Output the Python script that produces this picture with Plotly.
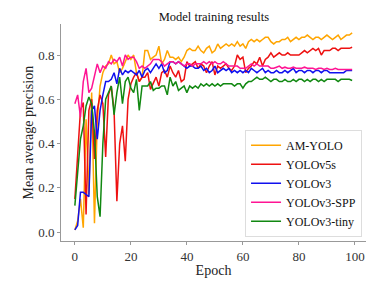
import plotly.graph_objects as go

epochs = list(range(100))

am_yolo = [0.01, 0.05, 0.15, 0.02, 0.51, 0.17, 0.63, 0.04, 0.50, 0.66,
           0.72, 0.75, 0.76, 0.80, 0.76, 0.77, 0.72, 0.74, 0.77, 0.80,
           0.78, 0.80, 0.72, 0.68, 0.70, 0.82, 0.82, 0.78, 0.79, 0.80,
           0.84, 0.76, 0.78, 0.82, 0.79, 0.79, 0.78, 0.79, 0.77, 0.79,
           0.82, 0.83, 0.82, 0.82, 0.84, 0.82, 0.81, 0.83, 0.84, 0.81,
           0.82, 0.85, 0.83, 0.84, 0.85, 0.84, 0.85, 0.84, 0.86, 0.84,
           0.85, 0.83, 0.86, 0.87, 0.86, 0.87, 0.86, 0.87, 0.88, 0.88,
           0.86, 0.85, 0.86, 0.86, 0.87, 0.87, 0.88, 0.86, 0.87, 0.88,
           0.87, 0.88, 0.88, 0.89, 0.88, 0.87, 0.88, 0.88, 0.87, 0.88,
           0.89, 0.88, 0.87, 0.88, 0.89, 0.87, 0.88, 0.89, 0.89, 0.90]

yolov5s = [0.15, 0.35, 0.55, 0.585, 0.08, 0.55, 0.60, 0.33, 0.55, 0.62,
           0.58, 0.34, 0.62, 0.66, 0.55, 0.14, 0.40, 0.48, 0.32, 0.60,
           0.67, 0.70, 0.72, 0.68, 0.70, 0.70, 0.72, 0.645, 0.67, 0.70,
           0.66, 0.72, 0.73, 0.70, 0.75, 0.72, 0.70, 0.73, 0.68, 0.69,
           0.77, 0.75, 0.76, 0.77, 0.74, 0.76, 0.75, 0.72, 0.75, 0.77,
           0.71, 0.75, 0.74, 0.75, 0.76, 0.74, 0.73, 0.75, 0.80, 0.78,
           0.79, 0.72, 0.74, 0.75, 0.77, 0.76, 0.79, 0.75, 0.78, 0.79,
           0.81, 0.79, 0.80, 0.81, 0.80, 0.80, 0.81, 0.80, 0.80, 0.80,
           0.80, 0.81, 0.82, 0.81, 0.82, 0.83, 0.82, 0.83, 0.80, 0.82,
           0.82, 0.82, 0.83, 0.83, 0.82, 0.83, 0.83, 0.83, 0.83, 0.835]

yolov3 = [0.01, 0.03, 0.18, 0.18, 0.17, 0.16, 0.55, 0.57, 0.42, 0.55,
          0.62, 0.68, 0.68, 0.69, 0.72, 0.67, 0.74, 0.71, 0.73, 0.72,
          0.73, 0.72, 0.71, 0.73, 0.70, 0.73, 0.74, 0.72, 0.74, 0.76,
          0.74, 0.76, 0.72, 0.73, 0.77, 0.77, 0.76, 0.77, 0.76, 0.75,
          0.74, 0.75, 0.75, 0.74, 0.74, 0.75, 0.73, 0.74, 0.72, 0.73,
          0.75, 0.72, 0.73, 0.74, 0.73, 0.74, 0.72, 0.73, 0.72, 0.73,
          0.72, 0.73, 0.72, 0.74, 0.73, 0.72, 0.73, 0.74, 0.72, 0.73,
          0.72, 0.72, 0.73, 0.72, 0.72, 0.73, 0.72, 0.73, 0.74, 0.72,
          0.73, 0.73, 0.72, 0.73, 0.73, 0.72, 0.73, 0.73, 0.72, 0.73,
          0.73, 0.72, 0.72, 0.72, 0.72, 0.72, 0.72, 0.73, 0.73, 0.73]

yolov3_spp = [0.58, 0.62, 0.52, 0.68, 0.74, 0.63, 0.65, 0.70, 0.76, 0.72,
              0.75, 0.74, 0.77, 0.76, 0.78, 0.77, 0.79, 0.75, 0.80, 0.78,
              0.79, 0.79, 0.77, 0.74, 0.75, 0.74, 0.75, 0.76, 0.78, 0.78,
              0.78, 0.77, 0.75, 0.76, 0.77, 0.77, 0.76, 0.77, 0.76, 0.75,
              0.76, 0.76, 0.75, 0.76, 0.76, 0.76, 0.77, 0.76, 0.77, 0.76,
              0.77, 0.76, 0.76, 0.77, 0.76, 0.75, 0.75, 0.75, 0.75, 0.74,
              0.74, 0.74, 0.75, 0.76, 0.75, 0.76, 0.75, 0.75, 0.75, 0.75,
              0.74, 0.74, 0.745, 0.75, 0.74, 0.745, 0.74, 0.74, 0.745, 0.74,
              0.74, 0.74, 0.745, 0.74, 0.74, 0.74, 0.735, 0.74, 0.74, 0.735,
              0.74, 0.735, 0.735, 0.74, 0.735, 0.735, 0.735, 0.735, 0.735, 0.735]

yolov3_tiny = [0.12, 0.28, 0.42, 0.48, 0.57, 0.61, 0.58, 0.45, 0.16, 0.07,
               0.40, 0.60, 0.63, 0.66, 0.53, 0.63, 0.70, 0.58, 0.68, 0.70,
               0.65, 0.63, 0.69, 0.55, 0.66, 0.66, 0.66, 0.68, 0.64, 0.65,
               0.65, 0.66, 0.66, 0.62, 0.70, 0.66, 0.68, 0.64, 0.65, 0.66,
               0.63, 0.66, 0.65, 0.66, 0.65, 0.67, 0.66, 0.67, 0.66, 0.67,
               0.66, 0.67, 0.66, 0.67, 0.67, 0.67, 0.67, 0.66, 0.67, 0.67,
               0.65, 0.67, 0.68, 0.68, 0.69, 0.70, 0.69, 0.69, 0.70, 0.69,
               0.68, 0.69, 0.69, 0.68, 0.68, 0.69, 0.68, 0.68, 0.69, 0.68,
               0.69, 0.69, 0.68, 0.69, 0.68, 0.69, 0.69, 0.68, 0.69, 0.68,
               0.69, 0.69, 0.69, 0.69, 0.68, 0.69, 0.69, 0.69, 0.69, 0.685]

series_names = ["AM-YOLO", "YOLOv5s", "YOLOv3", "YOLOv3-SPP", "YOLOv3-tiny"]
series_values = [am_yolo, yolov5s, yolov3, yolov3_spp, yolov3_tiny]
series_colors = ["#FFA500", "#EE1111", "#1010EE", "#FF1493", "#118811"]

x_ticks = [0, 20, 40, 60, 80, 100]
y_ticks = [0.0, 0.2, 0.4, 0.6, 0.8]

FONT = "Liberation Serif, Times New Roman, serif"

fig = go.Figure()
for name, vals, col in zip(series_names, series_values, series_colors):
    fig.add_trace(go.Scatter(x=epochs, y=vals, mode="lines", name=name,
                             line=dict(color=col, width=1.5)))

axis_common = dict(showline=True, linecolor="#999999", linewidth=1,
                   ticks="outside", ticklen=3, tickcolor="#999999",
                   showgrid=False, zeroline=False, automargin=False,
                   tickfont=dict(family=FONT, size=13, color="#333333"))

fig.update_layout(
    width=391, height=282,
    margin=dict(l=61, r=25, t=24, b=41),
    paper_bgcolor="white", plot_bgcolor="white",
    font=dict(family=FONT, color="#222222"),
    title=dict(text="Model training results", x=0.547, xanchor="center",
               y=0.94, yanchor="middle",
               font=dict(family=FONT, size=12.5, color="#111111")),
    xaxis=dict(range=[-4.95, 103.95], tickvals=x_ticks,
               title=dict(text="Epoch", font=dict(family=FONT, size=14, color="#222222"),
                          standoff=2),
               **axis_common),
    yaxis=dict(range=[-0.04, 0.94], tickvals=y_ticks, tickformat=".1f",
               **axis_common),
    legend=dict(x=0.987, y=0.02, xanchor="right", yanchor="bottom",
                bgcolor="white", bordercolor="#DDDDDD", borderwidth=1,
                font=dict(family=FONT, size=12, color="#111111"),
                tracegroupgap=0, itemwidth=30),
    showlegend=True,
    annotations=[dict(text="Mean average precision", xref="paper", yref="paper",
                      x=(28 - 61) / 305, y=0.5, xanchor="center", yanchor="middle",
                      textangle=-90, showarrow=False,
                      font=dict(family=FONT, size=14, color="#222222"))],
)

fig.write_html("out.html", config={"displayModeBar": False},
               post_script="document.body.style.margin='0px';")
